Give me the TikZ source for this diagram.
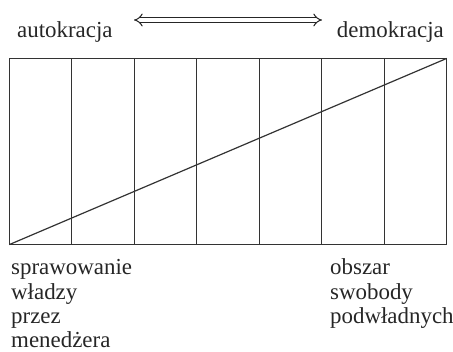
\documentclass[tikz,border=0pt]{standalone}
\usepackage{fontspec}
\setmainfont{Liberation Serif}
\usetikzlibrary{arrows.meta}
\begin{document}
\begin{tikzpicture}[x=1bp,y=-1bp,
  lbl/.style={inner sep=0pt,font=\fontsize{23}{25}\selectfont,text=black!85},
  frame/.style={line width=1.2bp,draw=black!80}]
\useasboundingbox (0,0) rectangle (453,351);
\coordinate (tl) at (9.5,58.5);
\coordinate (br) at (446.5,244.5);
\coordinate (bl) at (9.5,244.5);
\coordinate (tr) at (446.5,58.5);
\draw[frame] (tl) rectangle (br);
\foreach \x in {71.5,134.5,196.5,259.5,321.5,384.5}
  \draw[frame] (\x,58.5) -- (\x,244.5);
\draw[frame] (bl) -- (tr);
\node[lbl,anchor=base west] (auto) at (17,37) {autokracja};
\node[lbl,anchor=base east] (demo) at (444,37) {demokracja};
\coordinate (aL) at (134,20);
\coordinate (aR) at (322,20);
\draw[line width=1bp,draw=black!85,double distance=3.5bp,{Implies}-{Implies}] (aL) -- (aR);
\node[lbl,anchor=base west] (l1) at (11,274.5) {sprawowanie};
\node[lbl,anchor=base west] (l2) at (11,299) {władzy};
\node[lbl,anchor=base west] (l3) at (11,323.5) {przez};
\node[lbl,anchor=base west] (l4) at (11,347.5) {menedżera};
\node[lbl,anchor=base west] (r1) at (330,274.5) {obszar};
\node[lbl,anchor=base west] (r2) at (330,299) {swobody};
\node[lbl,anchor=base west] (r3) at (330,323.5) {podwładnych};
\end{tikzpicture}
\end{document}
